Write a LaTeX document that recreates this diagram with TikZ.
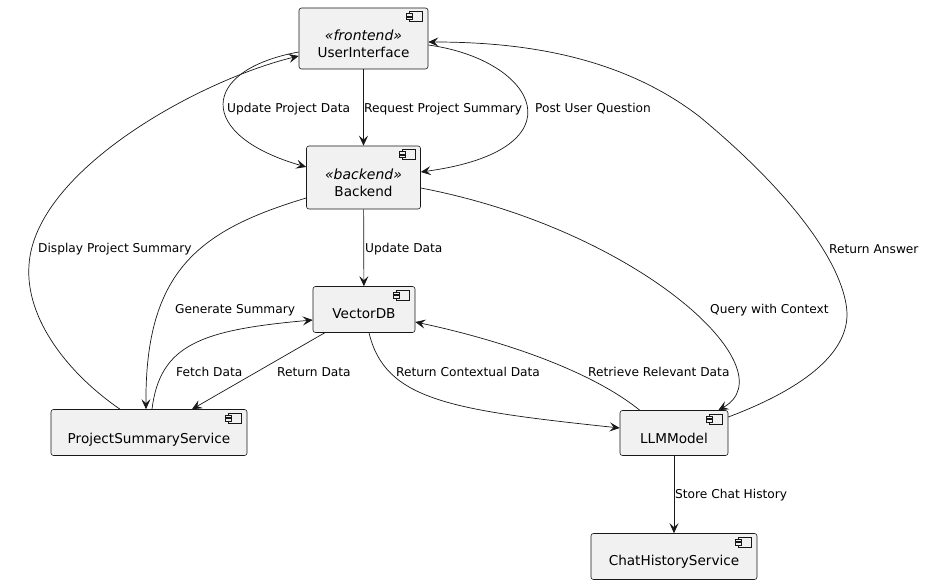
\documentclass[tikz,border=0pt]{standalone}
\usepackage{fontspec}
\setmainfont{DejaVu Sans}
\usetikzlibrary{arrows.meta,calc}
\definecolor{boxfill}{HTML}{F1F1F1}
\definecolor{ink}{HTML}{181818}
\begin{document}
\begin{tikzpicture}[x=1pt,y=-1pt,
  comp/.style={draw=ink, fill=boxfill, rounded corners=2.5pt, line width=0.6pt, inner sep=0pt},
  nm/.style={font=\fontsize{13.6}{16}\selectfont, text=black, anchor=base, inner sep=0pt},
  st/.style={font=\fontsize{14}{16}\selectfont\itshape, text=black, anchor=base, inner sep=0pt},
  lbl/.style={font=\fontsize{12.2}{15}\selectfont, text=black, anchor=west, inner sep=0pt},
  conn/.style={draw=ink, line width=0.7pt, -{Stealth[length=10pt,width=9pt,inset=4pt]}},
  icon/.style={draw=ink, fill=boxfill, line width=0.5pt}]
\useasboundingbox[fill=white] (0,0) rectangle (927,585);

% components
\node[comp, minimum width=129pt, minimum height=61pt] (ui) at (363.5,38.5) {};
\node[comp, minimum width=114pt, minimum height=63pt] (be) at (363.5,177.5) {};
\node[comp, minimum width=102pt, minimum height=46pt] (vdb) at (364,309.5) {};
\node[comp, minimum width=196pt, minimum height=46pt] (pss) at (149,432.5) {};
\node[comp, minimum width=108pt, minimum height=45pt] (llm) at (674,433) {};
\node[comp, minimum width=166pt, minimum height=46pt] (chs) at (674,556.5) {};

% component icons
\foreach \n in {ui,be,vdb,pss,llm,chs}{
  \draw[icon] ([xshift=-19pt,yshift=-4pt]\n.north east) rectangle ([xshift=-6pt,yshift=-14pt]\n.north east);
  \draw[icon] ([xshift=-22pt,yshift=-6pt]\n.north east) rectangle ([xshift=-16pt,yshift=-8.5pt]\n.north east);
  \draw[icon] ([xshift=-22pt,yshift=-9.5pt]\n.north east) rectangle ([xshift=-16pt,yshift=-12pt]\n.north east);
}

% texts
\node[st] (uiS) at ([yshift=-2.5pt]ui.center) {«frontend»};
\node[nm] (uiN) at ([yshift=-19pt]ui.center) {UserInterface};
\node[st] (beS) at ([yshift=-2.5pt]be.center) {«backend»};
\node[nm] (beN) at ([yshift=-19.5pt]be.center) {Backend};
\node[nm] (vdbN) at ([yshift=-9pt]vdb.center) {VectorDB};
\node[nm] (pssN) at ([yshift=-11pt]pss.center) {ProjectSummaryService};
\node[nm] (llmN) at ([yshift=-10pt]llm.center) {LLMModel};
\node[nm] (chsN) at ([yshift=-9pt]chs.center) {ChatHistoryService};

% connectors
\draw[conn] ([yshift=-13.5pt]ui.west) .. controls (200,70) and (195,135) .. ([yshift=10.5pt]be.west);
\draw[conn] ([xshift=-29pt]pss.north) .. controls (70,375) and (25,320) .. (29,265)
            .. controls (35,170) and (200,80) .. ([yshift=-17.5pt]ui.west);
\draw[conn] (ui) -- (be);
\draw[conn] ([yshift=-6.5pt]ui.east) .. controls (538,60) and (583,150) .. ([yshift=5.5pt]be.east);
\draw[conn] ([yshift=16pt]llm.east) .. controls (800,390) and (848,355) .. (847,313)
            .. controls (845,270) and (800,200) .. (700,117)
            .. controls (620,55) and (520,42) .. ([yshift=-3.5pt]ui.east);
\draw[conn] (be) -- (vdb);
\draw[conn] ([yshift=-20.5pt]be.west) .. controls (200,230) and (145,270) .. ([xshift=-3pt]pss.north);
\draw[conn] ([xshift=3pt]pss.north) .. controls (160,345) and (200,330) .. ([yshift=-10.5pt]vdb.west);
\draw[conn] ([xshift=12pt]vdb.south west) -- ([xshift=43pt]pss.north);
\draw[conn] ([xshift=5pt]vdb.south) .. controls (385,400) and (450,410) .. ([yshift=5pt]llm.west);
\draw[conn] ([xshift=20pt]llm.north west) .. controls (590,370) and (500,340) .. ([yshift=-12.5pt]vdb.east);
\draw[conn] ([yshift=-10.5pt]be.east) .. controls (640,230) and (790,370) .. ([xshift=-10pt]llm.north east);
\draw[conn] (llm) -- (chs);

% labels
\node[lbl] (l1) at (227,109) {Update Project Data};
\node[lbl] (l2) at (364,109) {Request Project Summary};
\node[lbl] (l3) at (535,109) {Post User Question};
\node[lbl] (l4) at (38,249) {Display Project Summary};
\node[lbl] (l5) at (365,249) {Update Data};
\node[lbl] (l6) at (829,249) {Return Answer};
\node[lbl] (l7) at (175,310) {Generate Summary};
\node[lbl] (l8) at (710,310) {Query with Context};
\node[lbl] (l9) at (176,372) {Fetch Data};
\node[lbl] (l10) at (277,372) {Return Data};
\node[lbl] (l11) at (396,372) {Return Contextual Data};
\node[lbl] (l12) at (588,372) {Retrieve Relevant Data};
\node[lbl] (l13) at (675,495) {Store Chat History};
\end{tikzpicture}
\end{document}
